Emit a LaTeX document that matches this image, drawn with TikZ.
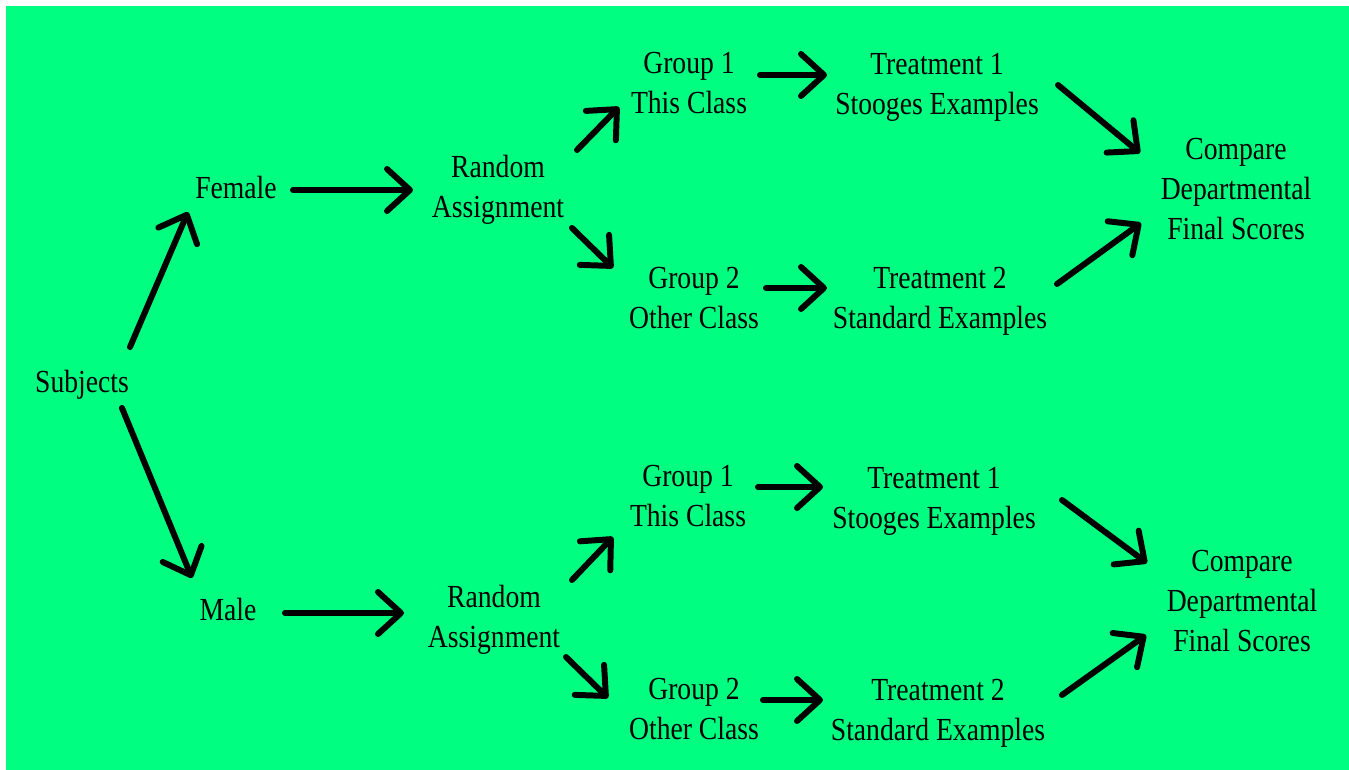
\documentclass[tikz,border=0pt]{standalone}
\usepackage{fontspec}
\setmainfont{Liberation Serif}[FakeStretch=0.86]
\usetikzlibrary{arrows.meta}
\definecolor{bggreen}{RGB}{0,255,128}

\begin{document}
\begin{tikzpicture}[x=0.02cm, y=-0.02cm,
    box/.style={anchor=north, inner sep=0pt, align=center,
                font=\fontsize{18.3}{22.6}\selectfont},
    arr/.style={-{Straight Barb[length=4.6mm, width=8.4mm, round]},
                line width=3.4pt, line cap=round}]
  \useasboundingbox (0,0) rectangle (1349,770);
  \fill[white] (0,0) rectangle (1349,770);
  \fill[bggreen] (6,6) rectangle (1370,790);
  % subjects and the two sexes
  \node[box] (subj) at (82,370)  {Subjects};
  \node[box] (fem)  at (236,176) {Female};
  \node[box] (male) at (228,598) {Male};
  % female branch
  \node[box] (raf) at (498,155)  {Random\\Assignment};
  \node[box] (g1f) at (689,52)   {Group 1\\This Class};
  \node[box] (g2f) at (694,267)  {Group 2\\Other Class};
  \node[box] (t1f) at (937,53)   {Treatment 1\\Stooges Examples};
  \node[box] (t2f) at (940,267)  {Treatment 2\\Standard Examples};
  \node[box] (cmf) at (1236,138) {Compare\\Departmental\\Final Scores};
  % male branch
  \node[box] (ram) at (494,585)  {Random\\Assignment};
  \node[box] (g1m) at (688,465)  {Group 1\\This Class};
  \node[box] (g2m) at (694,678)  {Group 2\\Other Class};
  \node[box] (t1m) at (934,467)  {Treatment 1\\Stooges Examples};
  \node[box] (t2m) at (938,679)  {Treatment 2\\Standard Examples};
  \node[box] (cmm) at (1242,550) {Compare\\Departmental\\Final Scores};
  % arrows, ends given as offsets from the north anchors
  \foreach \a/\sa/\b/\sb in {
      subj/{48,-23}/fem/{-48,36},  subj/{40,38}/male/{-36,-20},
      fem/{57,14}/raf/{-85,35},    male/{57,15}/ram/{-90,28},
      raf/{79,-5}/g1f/{-70,55},    raf/{74,73}/g2f/{-81,1},
      g1f/{71,23}/t1f/{-110,22},   g2f/{72,21}/t2f/{-113,21},
      t1f/{121,32}/cmf/{-96,15},   t2f/{117,17}/cmf/{-95,85},
      ram/{78,-5}/g1m/{-75,72},    ram/{72,72}/g2m/{-86,20},
      g1m/{70,22}/t1m/{-111,20},   g2m/{69,22}/t2m/{-115,21},
      t1m/{128,33}/cmm/{-95,13},   t2m/{124,16}/cmm/{-96,85}}
    \draw[arr] ([shift={(\sa)}]\a.north) -- ([shift={(\sb)}]\b.north);
\end{tikzpicture}
\end{document}
